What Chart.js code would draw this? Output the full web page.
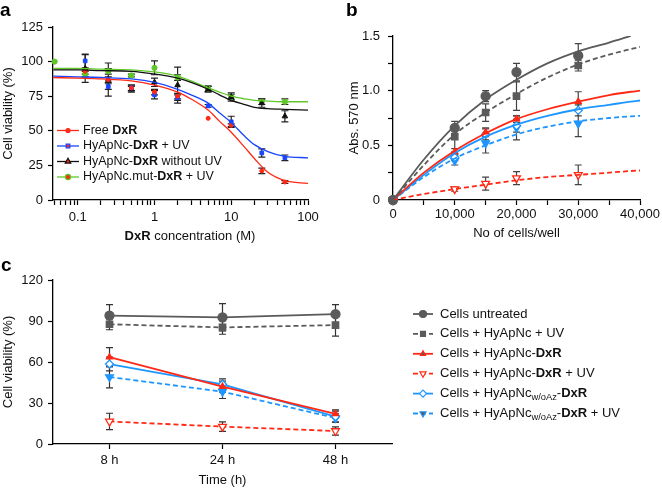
<!DOCTYPE html>
<html>
<head>
<meta charset="utf-8">
<script src="https://cdn.jsdelivr.net/npm/chart.js@4"></script>
<style>
  body { margin: 0; background: #fff; }
  #wrap { position: relative; width: 662px; height: 489px; overflow: hidden; font-family: "Liberation Sans", Arial, sans-serif; }
  canvas { position: absolute; }
  #ca { left: 0; top: 0; }
  #cb { left: 330px; top: 0; }
  #cc { left: 0; top: 240px; }
  .tag { position: absolute; font-weight: bold; font-size: 19px; line-height: 19px; color: #000; }
</style>
</head>
<body>
<div id="wrap">
  <canvas id="ca" width="330" height="245"></canvas>
  <canvas id="cb" width="332" height="245"></canvas>
  <canvas id="cc" width="662" height="249"></canvas>
  <div class="tag" style="left:0;top:0">a</div>
  <div class="tag" style="left:346px;top:0">b</div>
  <div class="tag" style="left:1px;top:255px">c</div>
</div>
<script>
// ---------- panel a : viability vs DxR concentration ----------
var concA = [0.05, 0.125, 0.25, 0.5, 1, 2, 5, 10, 25, 50];
var freeDxR     = [null, 93, 87, 81, 78, 75, 59, 54, 21, 13];
var freeDxRErr  = [0, 2, 2, 2, 2, 2, 0, 1, 2, 1];
var nanoUV      = [null, 100.5, 82, 81, 76, 74, 68, 56.5, 34, 30.5];
var nanoUVErr   = [0, 5, 2, 2, 3, 2, 1, 4, 3, 2];
var nanoNoUV    = [null, 95, 87, 80, 85, 83, 80, 74.5, 70, 60.5];
var nanoNoUVErr = [0, 10, 12, 2, 3, 13, 2, 3, 3, 4];
var mutUV       = [100, 91, 93, 90, 95.5, 88.5, 80.5, 74.5, 71, 71];
var mutUVErr    = [0, 2, 2, 1, 5, 2, 2, 2, 2, 2];
// fitted curves
var fitX       = [0.048, 0.1, 0.2, 0.5, 1, 2, 3, 5, 7, 10, 15, 20, 30, 50, 100];
var fitFree    = [88.5, 88, 87.5, 86, 83, 78, 73, 65, 57, 49, 38, 30, 20, 14, 12];
var fitNanoUVA = [89.5, 89, 88.5, 87.5, 85, 80, 76, 70, 63, 56, 46, 40, 35, 31.5, 30.5];
var fitNoUV    = [94, 94, 93.5, 93, 91, 88, 85, 80, 76, 72, 69, 67, 66, 65.5, 65];
var fitMut     = [95, 95, 94.5, 94, 92.5, 89.5, 86, 81, 78, 75, 73, 72, 71.5, 71, 71];
var xTicksA = [0.1, 1, 10, 100];
var yTicksA = [0, 25, 50, 75, 100, 125];

// ---------- panel b : absorbance vs cell number ----------
var cellsB = [0, 10000, 15000, 20000, 30000];
var untreatedB     = [0, 0.66, 0.95, 1.17, 1.32];
var untreatedBErr  = [0, 0, 0.05, 0.08, 0.11];
var nanoUVB        = [0, 0.58, 0.80, 0.95, 1.23];
var nanoUVBErr     = [0, 0.14, 0.08, 0.13, 0.05];
var nanoDxRB       = [0, 0.44, 0.62, 0.74, 0.90];
var nanoDxRBErr    = [0, 0.03, 0.04, 0.03, 0.09];
var nanoDxRUVB     = [0, 0.10, 0.15, 0.20, 0.23];
var nanoDxRUVBErr  = [0, 0.02, 0.06, 0.06, 0.09];
var woDxRB         = [0, 0.39, 0.60, 0.68, 0.82];
var woDxRBErr      = [0, 0.03, 0.05, 0.06, 0.05];
var woDxRUVB       = [0, 0.36, 0.52, 0.66, 0.70];
var woDxRUVBErr    = [0, 0.04, 0.09, 0.11, 0.12];
var fitXB          = [0, 5000, 10000, 15000, 20000, 25000, 30000, 35000, 38500, 40000];
var fitUntreatedB  = [0, 0.37, 0.68, 0.92, 1.10, 1.25, 1.36, 1.44, 1.50, null];
var fitNanoUVB     = [0, 0.32, 0.60, 0.80, 0.97, 1.12, 1.24, 1.33, 1.38, 1.40];
var fitNanoDxRB    = [0, 0.25, 0.45, 0.61, 0.74, 0.83, 0.90, 0.96, 0.99, 1.00];
var fitNanoDxRUVB  = [0, 0.055, 0.10, 0.14, 0.18, 0.21, 0.23, 0.25, 0.265, 0.27];
var fitWoDxRB      = [0, 0.23, 0.43, 0.58, 0.69, 0.77, 0.83, 0.87, 0.90, 0.91];
var fitWoDxRUVB    = [0, 0.21, 0.38, 0.50, 0.60, 0.67, 0.72, 0.75, 0.765, 0.77];

// ---------- panel c : viability vs time ----------
var timesC = ['8 h', '24 h', '48 h'];
var untreatedC    = [94, 92.7, 95];
var untreatedCErr = [8, 10, 7];
var nanoUVC       = [87.6, 85.3, 87];
var nanoUVCErr    = [4, 5, 8];
var nanoDxRC      = [63.5, 42, 22];
var nanoDxRCErr   = [7, 4, 3];
var nanoDxRUVC    = [16.5, 12.7, 9.5];
var nanoDxRUVCErr = [6, 3.5, 3];
var woDxRC        = [58.5, 43.7, 20];
var woDxRCErr     = [5, 4, 4];
var woDxRUVC      = [49, 38.3, 19];
var woDxRUVCErr   = [8, 5, 3];

var RED = 'rgb(255,40,20)';
var BLUE_A = 'rgb(25,70,255)';
var GREEN = 'rgb(95,200,40)';
var GRAY = 'rgb(90,90,90)';
var BLUE = 'rgb(30,150,255)';
var FONT = '"Liberation Sans", Arial, sans-serif';

Chart.defaults.font.family = FONT;
Chart.defaults.font.size = 13;
Chart.defaults.color = '#111';
Chart.defaults.animation = false;

function pts(xs, ys) {
  return xs.map(function (x, i) { return { x: x, y: ys[i] }; });
}

function drawRich(ctx, parts, x, y, size) {
  ctx.textBaseline = 'middle';
  ctx.textAlign = 'left';
  ctx.fillStyle = '#111';
  parts.forEach(function (p) {
    var style = p[1] || '';
    var sz = style === 'sub' ? size * 0.72 : size;
    ctx.font = (style === 'b' ? 'bold ' : '') + sz + 'px ' + FONT;
    ctx.fillText(p[0], x, style === 'sub' ? y + 4 : y);
    x += ctx.measureText(p[0]).width;
  });
  return x;
}

function measureRich(ctx, parts, size) {
  var w = 0;
  parts.forEach(function (p) {
    var style = p[1] || '';
    var sz = style === 'sub' ? size * 0.72 : size;
    ctx.font = (style === 'b' ? 'bold ' : '') + sz + 'px ' + FONT;
    w += ctx.measureText(p[0]).width;
  });
  return w;
}

// vertical error bars from the dataset's "errors" array
var errorBars = {
  id: 'errorBars',
  beforeDatasetsDraw: function (chart) {
    var ctx = chart.ctx, y = chart.scales.y;
    chart.data.datasets.forEach(function (ds, i) {
      if (!ds.errors) return;
      var meta = chart.getDatasetMeta(i);
      ctx.save();
      ctx.strokeStyle = ds.errorColor || '#333';
      ctx.lineWidth = 1.2;
      ds.data.forEach(function (d, j) {
        var e = ds.errors[j];
        var v = typeof d === 'object' && d !== null ? d.y : d;
        if (!e || v === null) return;
        var px = meta.data[j].x;
        var y1 = y.getPixelForValue(v - e), y2 = y.getPixelForValue(v + e);
        ctx.beginPath();
        ctx.moveTo(px, y1); ctx.lineTo(px, y2);
        ctx.moveTo(px - 3.5, y1); ctx.lineTo(px + 3.5, y1);
        ctx.moveTo(px - 3.5, y2); ctx.lineTo(px + 3.5, y2);
        ctx.stroke();
      });
      ctx.restore();
    });
  }
};

// legend with bold / subscript text pieces
var richLegend = {
  id: 'richLegend',
  afterDraw: function (chart, args, o) {
    if (!o || !o.items) return;
    var ctx = chart.ctx;
    o.items.forEach(function (it, r) {
      var y = o.top + r * o.gap;
      ctx.save();
      ctx.strokeStyle = it.color;
      ctx.lineWidth = o.lineWidth;
      ctx.setLineDash(it.dash || []);
      ctx.beginPath();
      ctx.moveTo(o.left, y); ctx.lineTo(o.left + o.len, y);
      ctx.stroke();
      ctx.setLineDash([]);
      ctx.fillStyle = it.fill || it.color;
      ctx.strokeStyle = it.color;
      ctx.lineWidth = 1.2;
      Chart.helpers.drawPoint(ctx, { pointStyle: it.style, rotation: it.rot || 0, radius: it.radius, borderWidth: 1.2 }, o.left + o.len / 2, y);
      drawRich(ctx, it.parts, o.left + o.len + o.textGap, y, o.size);
      ctx.restore();
    });
  }
};

// axis title with bold piece (panel a)
var richTitle = {
  id: 'richTitle',
  afterDraw: function (chart, args, o) {
    if (!o || !o.parts) return;
    var ctx = chart.ctx;
    ctx.save();
    var w = measureRich(ctx, o.parts, o.size);
    drawRich(ctx, o.parts, o.x - w / 2, o.y, o.size);
    ctx.restore();
  }
};

Chart.register(errorBars, richLegend, richTitle);

function axisBase() {
  return {
    border: { display: true, color: '#000', width: 1.3 },
    grid: { display: true, drawOnChartArea: false, drawTicks: true, tickLength: 5, color: '#000', tickWidth: 1.2 },
    ticks: { color: '#111', font: { size: 13 }, autoSkip: false, maxRotation: 0 }
  };
}

// ---------------- chart a ----------------
function curveA(ys, color) {
  return { type: 'line', data: pts(fitX, ys), borderColor: color, borderWidth: 1.3, pointRadius: 0, cubicInterpolationMode: 'monotone', fill: false };
}
function pointsA(ys, err, color, style, radius) {
  return { type: 'scatter', data: pts(concA, ys), errors: err, errorColor: '#222', backgroundColor: color, borderColor: color, pointStyle: style, pointRadius: radius, pointBorderWidth: 1, clip: false };
}
var xa = axisBase();
xa.type = 'logarithmic';
xa.min = 0.0476; xa.max = 100;
xa.afterBuildTicks = function (s) {
  var t = [];
  for (var e = -2; e <= 1; e++) for (var m = 1; m <= 9; m++) {
    var v = +(m * Math.pow(10, e)).toPrecision(3);
    if (v >= 0.05 && v <= 100) t.push({ value: v });
  }
  t.push({ value: 100 });
  s.ticks = t;
};
xa.ticks.callback = function (v) { return xTicksA.indexOf(+(+v).toPrecision(3)) >= 0 ? String(+(+v).toPrecision(3)) : ''; };
xa.ticks.padding = 5;
xa.afterFit = function (s) { s.height = 45; };
var ya = axisBase();
ya.min = 0; ya.max = 125;
ya.afterBuildTicks = function (s) { s.ticks = yTicksA.map(function (v) { return { value: v }; }); };
ya.ticks.padding = 5;
ya.title = { display: true, text: 'Cell viability (%)', font: { size: 13 }, color: '#111', padding: 0 };
ya.afterFit = function (s) { s.width = 52; };

new Chart(document.getElementById('ca'), {
  type: 'scatter',
  data: {
    datasets: [
      curveA(fitFree, RED), curveA(fitNanoUVA, BLUE_A), curveA(fitNoUV, '#111'), curveA(fitMut, GREEN),
      pointsA(freeDxR, freeDxRErr, RED, 'circle', 2),
      pointsA(nanoUV, nanoUVErr, BLUE_A, 'rect', 2.6),
      pointsA(nanoNoUV, nanoNoUVErr, '#111', 'triangle', 3.2),
      pointsA(mutUV, mutUVErr, GREEN, 'circle', 2.6)
    ]
  },
  options: {
    responsive: false,
    layout: { padding: { top: 27, right: 22, left: 1, bottom: 0 } },
    scales: { x: xa, y: ya },
    plugins: {
      legend: { display: false },
      tooltip: { enabled: false },
      richTitle: { parts: [['DxR', 'b'], [' concentration (M)']], x: 190, y: 236, size: 13 },
      richLegend: {
        left: 57, len: 22, textGap: 4, top: 130.5, gap: 15.5, size: 12.5, lineWidth: 1.3,
        items: [
          { color: RED, style: 'circle', radius: 2, parts: [['Free '], ['DxR', 'b']] },
          { color: BLUE_A, style: 'rect', radius: 2.6, parts: [['HyApNc-'], ['DxR', 'b'], [' + UV']] },
          { color: '#111', style: 'triangle', radius: 3.2, parts: [['HyApNc-'], ['DxR', 'b'], [' without UV']] },
          { color: GREEN, style: 'circle', radius: 2.6, parts: [['HyApNc.mut-'], ['DxR', 'b'], [' + UV']] }
        ]
      }
    }
  }
});

// ---------------- chart b ----------------
function curveB(ys, color, dash) {
  return { type: 'line', data: pts(fitXB, ys), borderColor: color, borderWidth: 1.8, borderDash: dash || [], pointRadius: 0, cubicInterpolationMode: 'monotone', fill: false, spanGaps: false };
}
function pointsB(ys, err, color, style, radius, fill, rot) {
  return { type: 'scatter', data: pts(cellsB, ys), errors: err, errorColor: '#444', backgroundColor: fill || color, borderColor: color, pointStyle: style, rotation: rot || 0, pointRadius: radius, pointBorderWidth: 1.3, clip: false };
}
var xb = axisBase();
xb.min = 0; xb.max = 40000;
xb.ticks.stepSize = 5000;
xb.ticks.padding = 2;
xb.ticks.callback = function (v) { return v % 10000 === 0 ? v.toLocaleString('en-US') : ''; };
xb.title = { display: true, text: 'No of cells/well', font: { size: 13 }, color: '#111', padding: { top: 0, bottom: 4 } };
xb.afterFit = function (s) { s.height = 45; };
var yb = axisBase();
yb.min = 0; yb.max = 1.5;
yb.ticks.stepSize = 0.25;
yb.ticks.padding = 8;
yb.ticks.callback = function (v) { return v % 0.5 === 0 ? (v === 0 ? '0' : v.toFixed(1)) : ''; };
yb.title = { display: true, text: 'Abs. 570 nm', font: { size: 13 }, color: '#111', padding: 0 };
yb.afterFit = function (s) { s.width = 46; };

new Chart(document.getElementById('cb'), {
  type: 'scatter',
  data: {
    datasets: [
      curveB(fitUntreatedB, GRAY), curveB(fitNanoUVB, GRAY, [5, 3]),
      curveB(fitNanoDxRB, RED), curveB(fitNanoDxRUVB, RED, [5, 3]),
      curveB(fitWoDxRB, BLUE), curveB(fitWoDxRUVB, BLUE, [5, 3]),
      pointsB(untreatedB, untreatedBErr, GRAY, 'circle', 4.5),
      pointsB(nanoUVB, nanoUVBErr, GRAY, 'rect', 4.5),
      pointsB(nanoDxRB, nanoDxRBErr, RED, 'triangle', 3.5),
      pointsB(nanoDxRUVB, nanoDxRUVBErr, RED, 'triangle', 4.5, '#fff', 180),
      pointsB(woDxRB, woDxRBErr, BLUE, 'rectRot', 4, '#fff'),
      pointsB(woDxRUVB, woDxRUVBErr, BLUE, 'triangle', 4.5, BLUE, 180)
    ]
  },
  options: {
    responsive: false,
    layout: { padding: { top: 36, right: 22, left: 17, bottom: 0 } },
    scales: { x: xb, y: yb },
    plugins: { legend: { display: false }, tooltip: { enabled: false } }
  }
});

// ---------------- chart c ----------------
function lineC(label, ys, err, color, dash, style, radius, fill, rot) {
  return { label: label, data: ys, errors: err, errorColor: '#333', borderColor: color, borderWidth: 1.8, borderDash: dash || [],
    backgroundColor: fill || color, pointBackgroundColor: fill || color, pointBorderColor: color, pointStyle: style,
    rotation: rot || 0, pointRadius: radius, pointBorderWidth: 1.3, tension: 0, fill: false, clip: false };
}
var xc = axisBase();
xc.type = 'category';
xc.offset = true;
xc.ticks.padding = 4;
xc.title = { display: true, text: 'Time (h)', font: { size: 13 }, color: '#111', padding: { top: 0, bottom: 1 } };
xc.afterFit = function (s) { s.height = 45; };
var yc = axisBase();
yc.min = 0; yc.max = 120;
yc.ticks.stepSize = 30;
yc.ticks.padding = 5;
yc.title = { display: true, text: 'Cell viability (%)', font: { size: 13 }, color: '#111', padding: 0 };
yc.afterFit = function (s) { s.width = 52; };

new Chart(document.getElementById('cc'), {
  type: 'line',
  data: {
    labels: timesC,
    datasets: [
      lineC('Cells untreated', untreatedC, untreatedCErr, GRAY, null, 'circle', 4.5),
      lineC('Cells + HyApNc + UV', nanoUVC, nanoUVCErr, GRAY, [5, 3], 'rect', 4.5),
      lineC('Cells + HyApNc-DxR', nanoDxRC, nanoDxRCErr, RED, null, 'triangle', 3.5),
      lineC('Cells + HyApNc-DxR + UV', nanoDxRUVC, nanoDxRUVCErr, RED, [5, 3], 'triangle', 4.5, '#fff', 180),
      lineC('Cells + HyApNc w/oAz-DxR', woDxRC, woDxRCErr, BLUE, null, 'rectRot', 4, '#fff'),
      lineC('Cells + HyApNc w/oAz-DxR + UV', woDxRUVC, woDxRUVCErr, BLUE, [5, 3], 'triangle', 4.5, BLUE, 180)
    ]
  },
  options: {
    responsive: false,
    layout: { padding: { top: 40, right: 270, left: 1, bottom: 0 } },
    scales: { x: xc, y: yc },
    plugins: {
      legend: { display: false },
      tooltip: { enabled: false },
      richLegend: {
        left: 413, len: 20, textGap: 7, top: 74, gap: 19.9, size: 13, lineWidth: 1.8,
        items: [
          { color: GRAY, style: 'circle', radius: 3.5, parts: [['Cells untreated']] },
          { color: GRAY, style: 'rect', radius: 3.5, dash: [5, 3], parts: [['Cells + HyApNc + UV']] },
          { color: RED, style: 'triangle', radius: 3, parts: [['Cells + HyApNc-'], ['DxR', 'b']] },
          { color: RED, style: 'triangle', radius: 3.5, rot: 180, fill: '#fff', dash: [5, 3], parts: [['Cells + HyApNc-'], ['DxR', 'b'], [' + UV']] },
          { color: BLUE, style: 'rectRot', radius: 3.5, fill: '#fff', parts: [['Cells + HyApNc'], ['w/oAz', 'sub'], ['-'], ['DxR', 'b']] },
          { color: BLUE, style: 'triangle', radius: 3.5, rot: 180, dash: [5, 3], parts: [['Cells + HyApNc'], ['w/oAz', 'sub'], ['-'], ['DxR', 'b'], [' + UV']] }
        ]
      }
    }
  }
});
</script>
</body>
</html>
